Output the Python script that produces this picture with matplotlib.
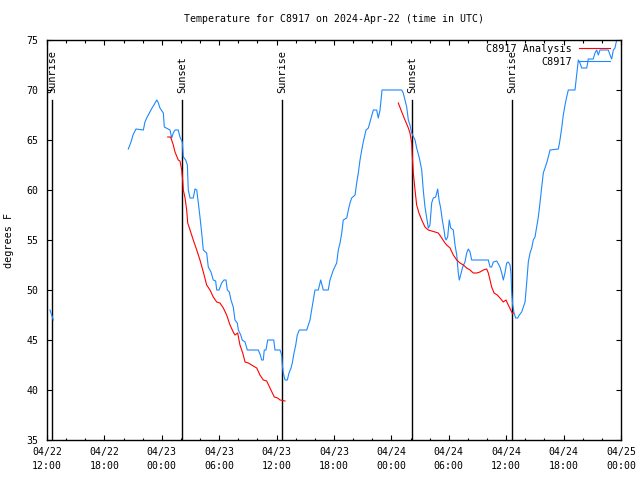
import numpy as np
import pandas as pd
import matplotlib
matplotlib.use('Agg')
import matplotlib.pyplot as plt
import matplotlib.dates as mdates

plt.rcParams['font.family'] = ['DejaVu Sans Mono']
plt.rcParams['font.size'] = 7

start = pd.Timestamp('2024-04-22 12:00')
x_end = pd.Timestamp('2024-04-25 00:00')

# observed temps, hours after start (nan = gap)
obs_hours = [0.31, 0.49, 0.66, 4.0,
             8.50, 8.78, 8.99, 9.30, 10.07, 10.24, 10.42, 10.59, 10.77, 10.98, 11.18, 11.47, 11.60, 11.81,
             12.16, 12.26, 12.86, 13.03, 13.20, 13.38, 13.72, 13.90, 14.14, 14.25, 14.50, 14.67, 14.77,
             14.95, 15.29, 15.47, 15.65, 15.82, 15.99, 16.17, 16.34, 16.69, 16.86, 17.14, 17.38, 17.63,
             17.74, 17.98, 18.26, 18.50, 18.71, 18.85, 19.06, 19.23, 19.47, 19.65, 19.89, 20.00, 20.25,
             20.41, 20.70, 20.94, 22.09, 22.30, 22.44, 22.61, 22.71, 22.89, 23.07, 23.70, 23.83, 24.36,
             24.53, 24.60, 24.70, 24.88, 25.12, 25.30, 25.51, 25.64, 25.82, 26.00, 26.16, 26.37, 27.15,
             27.49, 27.84, 28.01, 28.36, 28.61, 28.88, 29.40, 29.58, 29.93, 30.28, 30.45, 30.63, 30.81,
             30.97, 31.33, 31.50, 31.67, 31.85, 32.20, 32.37, 32.54, 32.72, 32.90, 33.06, 33.35, 33.59,
             33.76, 34.11, 34.46, 34.63, 34.81, 35.02, 37.08, 37.24, 37.42, 37.60, 37.77, 37.94, 38.12,
             38.47, 38.64, 38.92, 39.17, 39.33, 39.51, 39.69, 39.86, 40.03, 40.21, 40.38, 40.63, 40.84,
             40.98, 41.15, 41.32, 41.50, 41.60, 41.71, 41.88, 42.05, 42.20, 42.47, 42.65, 42.83, 42.99,
             43.10, 43.24, 43.45, 43.69, 43.87, 44.04, 44.22, 44.39, 46.13, 46.31, 46.48, 46.65, 47.01,
             47.35, 47.53, 47.70, 47.87, 48.05, 48.22, 48.40, 48.50, 48.57, 48.68, 48.82, 48.99, 49.20,
             49.37, 49.62, 49.79, 49.97, 50.14, 50.31, 50.49, 50.67, 50.83, 51.01, 51.19, 51.36, 51.53,
             51.71, 51.88, 52.06, 52.23, 52.40, 52.58, 53.45, 53.62, 53.80, 53.97, 54.15, 54.32, 54.49,
             55.19, 55.37, 55.54, 55.71, 55.89, 56.42, 56.58, 57.10, 57.28, 57.46, 57.63, 57.80, 58.67,
             58.85, 59.03, 59.20, 59.37, 59.55, 59.69]
obs_temp = [48.0, 47.5, 47.0, np.nan,
            64.1, 64.8, 65.5, 66.1, 66.0, 66.8, 67.2, 67.5, 67.8, 68.2, 68.5, 69.0, 68.8, 68.2,
            67.7, 66.3, 66.0, 65.2, 65.7, 66.0, 66.0, 65.3, 64.8, 63.3, 63.0, 62.5, 60.0,
            59.2, 59.2, 60.1, 60.0, 58.7, 57.3, 55.7, 54.0, 53.7, 52.3, 51.8, 51.0, 50.9,
            50.0, 50.0, 50.7, 51.0, 51.0, 50.0, 49.8, 49.0, 48.3, 47.0, 46.7, 46.0, 45.5,
            45.0, 44.8, 44.0, 44.0, 43.5, 43.0, 43.0, 44.0, 44.0, 45.0, 45.0, 44.0, 44.0,
            43.5, 42.5, 41.7, 41.0, 41.0, 41.7, 42.2, 42.7, 43.7, 44.5, 45.5, 46.0, 46.0,
            47.0, 49.0, 50.0, 50.0, 51.0, 50.0, 50.0, 51.0, 52.0, 52.7, 54.0, 54.7, 55.7,
            57.0, 57.2, 58.0, 58.7, 59.2, 59.5, 60.7, 61.7, 63.0, 64.0, 64.8, 66.0, 66.2,
            66.8, 68.0, 68.0, 67.2, 68.0, 70.0, 70.0, 69.7, 69.0, 68.3, 67.0, 66.5, 65.7,
            65.0, 64.2, 63.2, 62.0, 60.0, 58.3, 57.2, 56.2, 56.5, 58.7, 59.2, 59.3, 60.1,
            59.0, 58.2, 57.0, 56.0, 55.3, 55.0, 55.3, 57.0, 56.2, 56.0, 54.5, 53.5, 51.7,
            51.0, 51.5, 52.3, 52.8, 53.7, 54.1, 53.8, 53.0, 53.0, 52.3, 52.3, 52.8, 52.9,
            52.3, 51.7, 51.0, 51.7, 52.7, 52.8, 52.5, 51.7, 49.8, 48.5, 47.7, 47.2, 47.2,
            47.5, 47.8, 48.3, 48.8, 50.7, 52.8, 53.7, 54.2, 55.0, 55.3, 56.3, 57.3, 58.7,
            60.3, 61.7, 62.2, 62.7, 63.3, 64.0, 64.1, 65.0, 66.2, 67.5, 68.5, 69.3, 70.0,
            70.0, 71.5, 73.0, 72.7, 72.2, 72.2, 73.1, 73.1, 73.7, 74.0, 73.5, 74.0, 74.0,
            73.5, 73.1, 74.0, 74.2, 75.0, 75.3]

# analysis temps
ana_hours = [12.62, 12.91, 13.03, 13.20, 13.38, 13.72, 13.90, 14.08, 14.18, 14.25, 14.43, 14.60, 14.71,
             14.95, 15.29, 15.65, 15.99, 16.34, 16.69, 17.04, 17.38, 17.74, 18.08, 18.43, 18.78, 19.13,
             19.47, 19.65, 19.93, 20.17, 20.46, 20.70, 21.04, 21.56, 21.92, 22.26, 22.61, 22.96, 23.31,
             23.76, 24.11, 24.36, 24.88, 30.0,
             36.72, 37.08, 37.42, 37.77, 37.94, 38.12, 38.19, 38.29, 38.47, 38.64, 38.88, 39.17, 39.51,
             39.86, 40.56, 40.90, 41.26, 41.60, 41.78, 42.13, 42.47, 42.83, 43.17, 43.52, 43.87, 44.22,
             44.56, 44.92, 45.26, 45.61, 45.96, 46.13, 46.31, 46.48, 46.73, 47.07, 47.35, 47.70, 47.98,
             48.22, 48.47, 48.68, 48.74]
ana_temp = [65.3, 65.3, 65.0, 64.5, 63.8, 63.0, 62.9, 62.0, 61.0, 60.0, 59.2, 58.0, 56.7,
            56.0, 55.0, 54.0, 53.0, 51.8, 50.5, 50.0, 49.3, 48.8, 48.7, 48.2, 47.5, 46.5,
            45.8, 45.5, 45.7, 44.5, 43.7, 42.8, 42.7, 42.4, 42.2, 41.5, 41.0, 40.9, 40.2,
            39.3, 39.2, 39.0, 38.9, np.nan,
            68.7, 67.8, 67.0, 66.2, 65.7, 64.7, 63.3, 61.7, 60.0, 58.5, 57.7, 57.0, 56.3,
            56.0, 55.8, 55.7, 55.2, 54.7, 54.5, 54.2, 53.5, 53.0, 52.7, 52.5, 52.2, 52.0,
            51.7, 51.7, 51.8, 52.0, 52.1, 51.7, 51.0, 50.3, 49.7, 49.5, 49.2, 48.8, 49.0,
            48.5, 48.0, 47.6, 47.7]

# sun events, hours after start
event_hours = [0.55, 14.11, 24.56, 38.15, 48.61]
event_names = ['Sunrise', 'Sunset', 'Sunrise', 'Sunset', 'Sunrise']

blue = '#1e88ff'
red = '#ff0000'

def to_time(h):
    return start + pd.to_timedelta(np.array(h), unit='h')

fig = plt.figure(figsize=(6.4, 4.8), dpi=100)
ax = fig.add_axes([47/640, 40/480, 574/640, 400/480])

for h, name in zip(event_hours, event_names):
    t = to_time([h])[0]
    ax.plot([t, t], [35, 69], color='black', lw=1.0, zorder=1)
    ax.text(t, 69.7, name, rotation=90, ha='center', va='bottom', fontsize=7.4)

l1, = ax.plot(to_time(ana_hours), ana_temp, color=red, lw=0.8, zorder=3)
l2, = ax.plot(to_time(obs_hours), obs_temp, color=blue, lw=0.8, zorder=2)

leg_kw = dict(loc='center right', frameon=False, borderpad=0, borderaxespad=0,
              handlelength=3.1, handletextpad=0.7, fontsize=7.3, markerfirst=False)
leg1 = ax.legend([l1], ['C8917 Analysis'], bbox_to_anchor=(0.981, 0.9775), **leg_kw)
ax.add_artist(leg1)
ax.legend([l2], ['C8917'], bbox_to_anchor=(0.981, 0.945), **leg_kw)

ax.set_xlim(start, x_end)
ax.set_ylim(35, 75)
ax.set_yticks(range(35, 80, 5))
ax.xaxis.set_major_locator(mdates.HourLocator(byhour=range(0, 24, 6)))
ax.xaxis.set_minor_locator(mdates.HourLocator(byhour=range(0, 24, 2)))
ax.xaxis.set_major_formatter(mdates.DateFormatter('%m/%d\n%H:%M'))
ax.tick_params(which='both', direction='in', top=True, right=True, labelsize=7.1)
ax.tick_params(which='major', length=3.6, width=0.8)
ax.tick_params(which='minor', length=1.8, width=0.8)
ax.tick_params(axis='x', pad=5)
ax.tick_params(axis='y', pad=6)
for lab in ax.get_xticklabels():
    lab.set_linespacing(1.45)
for s in ax.spines.values():
    s.set_linewidth(1.0)

ax.set_ylabel('degrees F', fontsize=7.3, labelpad=9)
ax.set_title('Temperature for C8917 on 2024-Apr-22 (time in UTC)', fontsize=7.1, pad=13)

fig.savefig('out.png', dpi=100)
